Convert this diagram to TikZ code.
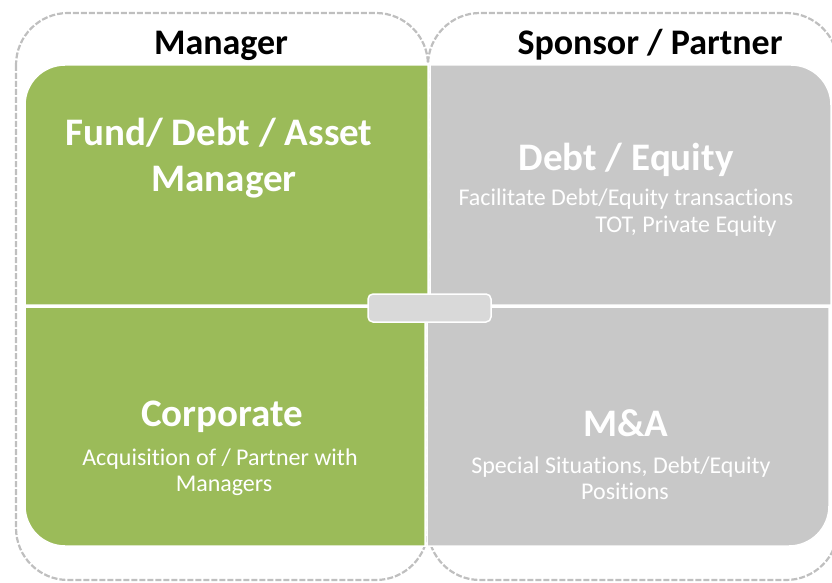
\documentclass[tikz,border=0pt]{standalone}
\usepackage{fontspec}
\setmainfont{Carlito}[Ligatures=CommonOff]
\begin{document}
\definecolor{leafgreen}{HTML}{9BBB59}
\definecolor{panelgrey}{HTML}{C8C8C8}
\definecolor{hubgrey}{HTML}{D9D9D9}
\definecolor{dashgrey}{HTML}{BFBFBF}
\begin{tikzpicture}[x=1pt,y=-1pt,
  group/.style={draw=dashgrey,line width=2.2pt,dash pattern=on 6pt off 2pt,rounded corners=52pt},
  panel/.style={draw=white,line width=1.5pt},
  header/.style={font=\fontsize{36}{40}\selectfont\bfseries,text=black,anchor=base,inner sep=0pt},
  title/.style={font=\fontsize{39}{46}\selectfont\bfseries,text=white,anchor=base,inner sep=0pt,align=center},
  detail/.style={font=\fontsize{24}{27}\selectfont,text=white,anchor=base,inner sep=0pt,align=center}]
\useasboundingbox (0,0) rectangle (832,583);

% dashed group outlines
\draw[group] (16,13) rectangle (428,580);
\draw[group] (428,13) rectangle (838,580);

% quadrant panels
\fill[leafgreen] (25,305) [rounded corners=40pt] -- (25,65) [sharp corners] -- (428,65) -- (428,305) -- cycle;
\draw[panel] (25,305) [rounded corners=40pt] -- (25,65) [sharp corners] -- (428,65) -- (428,305) -- cycle;
\fill[panelgrey] (430,65) [rounded corners=40pt] -- (831,65) [sharp corners] -- (831,305) -- (430,305) -- cycle;
\draw[panel] (430,65) [rounded corners=40pt] -- (831,65) [sharp corners] -- (831,305) -- (430,305) -- cycle;
\fill[leafgreen] (25,307) [rounded corners=40pt] -- (25,546) [sharp corners] -- (425,546) -- (425,307) -- cycle;
\draw[panel] (25,307) [rounded corners=40pt] -- (25,546) [sharp corners] -- (425,546) -- (425,307) -- cycle;
\fill[panelgrey] (427,307) -- (829,307) [rounded corners=40pt] -- (829,546) [sharp corners] -- (427,546) -- cycle;
\draw[panel] (427,307) -- (829,307) [rounded corners=40pt] -- (829,546) [sharp corners] -- (427,546) -- cycle;

% centre hub
\node[draw=white,line width=1.5pt,fill=hubgrey,rounded corners=5pt,minimum width=123pt,minimum height=28pt,inner sep=0pt] (hub) at (429.5,308) {};

% group headers
\node[header] (mgr) at (221,55) {Manager};
\node[header] (spon) at (650,55) {Sponsor / Partner};

% panel texts
\node[title] (fund1) at (219,145) {Fund/ Debt / Asset};
\node[title] (fund2) at (224,191) {Manager};
\node[title] (debt) at (626,170) {Debt / Equity};
\node[detail] (debt1) at (626,205) {Facilitate Debt/Equity transactions};
\node[detail] (debt2) at (686,232) {TOT, Private Equity};
\node[title] (corp) at (222,426) {Corporate};
\node[detail] (corp1) at (220,465) {Acquisition of / Partner with};
\node[detail] (corp2) at (224,491) {Managers};
\node[title] (ma) at (626,436) {M\&A};
\node[detail] (ma1) at (621,473) {Special Situations, Debt/Equity};
\node[detail] (ma2) at (625,499) {Positions};
\end{tikzpicture}
\end{document}
